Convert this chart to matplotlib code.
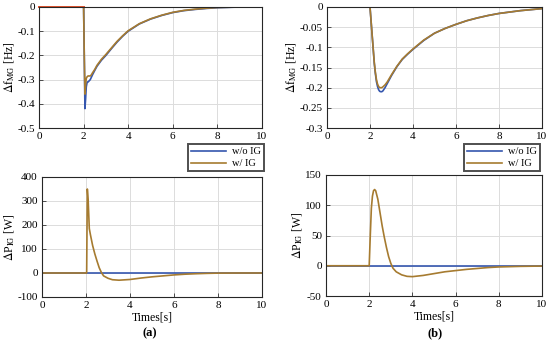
import matplotlib
matplotlib.use("Agg")
import matplotlib.pyplot as plt

plt.rcParams['font.family'] = ['Liberation Serif', 'DejaVu Serif']
plt.rcParams['mathtext.fontset'] = 'stix'

# (a) frequency deviation
t_fa_wo = [0, 2.0, 2.03, 2.06, 2.09, 2.12, 2.16, 2.2, 2.25, 2.3, 2.35, 2.4, 2.5, 2.6, 2.8, 3.0, 3.25, 3.5,
           3.75, 4.0, 4.5, 5.0, 5.5, 6.0, 6.5, 7.0, 7.5, 8.0, 9.0, 10.0]
f_a_wo = [0, 0, -0.2, -0.42, -0.38, -0.33, -0.31, -0.31, -0.305, -0.3, -0.29, -0.28, -0.262, -0.245, -0.22,
          -0.2, -0.172, -0.145, -0.121, -0.1, -0.07, -0.05, -0.035, -0.023, -0.015, -0.01, -0.006, -0.003, 0, 0]
t_fa_w = [0, 2.0, 2.03, 2.06, 2.09, 2.12, 2.16, 2.2, 2.25, 2.3, 2.35, 2.4, 2.5, 2.6, 2.8, 3.0, 3.25, 3.5,
          3.75, 4.0, 4.5, 5.0, 5.5, 6.0, 6.5, 7.0, 7.5, 8.0, 9.0, 10.0]
f_a_w = [0, 0, -0.2, -0.36, -0.32, -0.295, -0.288, -0.285, -0.285, -0.285, -0.28, -0.272, -0.258, -0.241, -0.216,
         -0.196, -0.169, -0.142, -0.119, -0.098, -0.069, -0.049, -0.034, -0.022, -0.014, -0.009, -0.005, -0.002, 0, 0]

# (b) frequency deviation
t_fb = [0, 2.0, 2.05, 2.1, 2.15, 2.2, 2.25, 2.3, 2.35, 2.4, 2.45, 2.5, 2.55, 2.6, 2.7, 2.8, 2.9, 3.0, 3.25,
        3.5, 3.75, 4.0, 4.5, 5.0, 5.5, 6.0, 6.5, 7.0, 7.5, 8.0, 9.0, 10.0]
f_b_wo = [0, 0, -0.035, -0.07, -0.105, -0.14, -0.165, -0.185, -0.197, -0.205, -0.209, -0.21, -0.21, -0.208,
          -0.2, -0.19, -0.18, -0.17, -0.148, -0.13, -0.117, -0.105, -0.083, -0.065, -0.053, -0.043, -0.034,
          -0.027, -0.021, -0.016, -0.009, -0.004]
f_b_w = [0, 0, -0.035, -0.07, -0.104, -0.138, -0.162, -0.18, -0.191, -0.197, -0.2, -0.2, -0.2, -0.198,
         -0.193, -0.186, -0.177, -0.168, -0.147, -0.129, -0.116, -0.104, -0.082, -0.065, -0.053, -0.043, -0.034,
         -0.027, -0.021, -0.016, -0.009, -0.004]

# (a) IG power
t_pa = [0, 2.0, 2.03, 2.06, 2.1, 2.15, 2.2, 2.3, 2.4, 2.5, 2.6, 2.7, 2.8, 3.0, 3.2, 3.5, 4.0, 4.5, 5.0, 5.5,
        6.0, 6.5, 7.0, 7.5, 8.0, 9.0, 10.0]
p_a_wo = [0] * len(t_pa)
p_a_w = [0, 0, 0, 350, 300, 185, 160, 115, 80, 50, 22, 2, -12, -22, -28, -30, -27, -21, -16, -12, -8, -5, -3,
         -1.5, -0.5, 0, 0]

# (b) IG power
t_pb = [0, 2.0, 2.05, 2.1, 2.15, 2.2, 2.25, 2.3, 2.4, 2.5, 2.6, 2.7, 2.8, 2.9, 3.0, 3.1, 3.25, 3.5, 3.75, 4.0,
        4.5, 5.0, 5.5, 6.0, 6.5, 7.0, 7.5, 8.0, 9.0, 10.0]
p_b_wo = [0] * len(t_pb)
p_b_w = [0, 0, 50, 95, 115, 124, 126, 124, 110, 88, 66, 47, 30, 15, 4, -4, -10, -15, -17.5, -18, -16, -13,
         -10, -8, -6, -4.5, -3, -2, -1, -0.5]

blue = '#3556AE'
brown = '#A67B30'
W, H = 550, 345

fig = plt.figure(figsize=(5.5, 3.45), dpi=100)

def px(l, t, r, b):
    return [l / W, 1 - b / H, (r - l) / W, (b - t) / H]

ax1 = fig.add_axes(px(39, 7, 262, 128))
ax2 = fig.add_axes(px(327, 7, 542, 128))
ax3 = fig.add_axes(px(42, 177, 262, 297))
ax4 = fig.add_axes(px(326, 175, 542, 296))

ax1.plot(t_fa_wo, f_a_wo, color=blue, lw=1.2, label='w/o IG')
ax1.plot(t_fa_w, f_a_w, color=brown, lw=1.2, label='w/ IG')
ax1.plot([0, 2.0], [0, 0], color='#E0502A', lw=1.4, clip_on=False)
ax1.set_ylim(-0.5, 0)
ax1.set_yticks([0, -0.1, -0.2, -0.3, -0.4, -0.5])
ax1.set_yticklabels(['0', '-0.1', '-0.2', '-0.3', '-0.4', '-0.5'])

ax2.plot(t_fb, f_b_wo, color=blue, lw=1.2, label='w/o IG')
ax2.plot(t_fb, f_b_w, color=brown, lw=1.2, label='w/ IG')
ax2.set_ylim(-0.3, 0)
ax2.set_yticks([0, -0.05, -0.1, -0.15, -0.2, -0.25, -0.3])
ax2.set_yticklabels(['0', '-0.05', '-0.1', '-0.15', '-0.2', '-0.25', '-0.3'])

ax3.plot(t_pa, p_a_wo, color=blue, lw=1.2)
ax3.plot(t_pa, p_a_w, color=brown, lw=1.2)
ax3.set_ylim(-100, 400)
ax3.set_yticks([-100, 0, 100, 200, 300, 400])
ax3.set_yticklabels(['-100', '0', '100', '200', '300', '400'])

ax4.plot(t_pb, p_b_wo, color=blue, lw=1.2)
ax4.plot(t_pb, p_b_w, color=brown, lw=1.2)
ax4.set_ylim(-50, 150)
ax4.set_yticks([-50, 0, 50, 100, 150])
ax4.set_yticklabels(['-50', '0', '50', '100', '150'])

for ax in (ax1, ax2, ax3, ax4):
    ax.set_xlim(0, 10)
    ax.set_xticks([0, 2, 4, 6, 8, 10])
    ax.grid(True, color='#DCDCDC', lw=0.7)
    ax.tick_params(labelsize=8, direction='in', length=3, width=0.6, color='#333333', pad=3)
    for s in ax.spines.values():
        s.set_linewidth(0.8)
        s.set_color('#262626')

for ax in (ax1, ax2):
    ax.set_ylabel(r'$\Delta$f$_{\mathrm{MG}}$ [Hz]', fontsize=8.5, labelpad=1)
for ax in (ax3, ax4):
    ax.set_ylabel(r'$\Delta$P$_{\mathrm{IG}}$ [W]', fontsize=8.5, labelpad=1)
    ax.set_xlabel('Times[s]', fontsize=8.5, labelpad=1)

for ax, lx in ((ax1, 188), (ax2, 464)):
    h, lab = ax.get_legend_handles_labels()
    leg = fig.legend(h, lab, loc='upper left', bbox_to_anchor=(lx / W, 1 - 144 / H),
                     fontsize=7.5, frameon=True, fancybox=False, handlelength=3.3,
                     borderpad=0.3, labelspacing=0.25, handletextpad=0.6, borderaxespad=0)
    leg.get_frame().set_edgecolor('#222222')
    leg.get_frame().set_linewidth(1.4)

fig.text(150 / W, 1 - 333 / H, '(a)', ha='center', va='center', fontsize=9, fontweight='bold')
fig.text(435 / W, 1 - 333 / H, '(b)', ha='center', va='center', fontsize=9, fontweight='bold')

fig.savefig('out.png', dpi=100)
